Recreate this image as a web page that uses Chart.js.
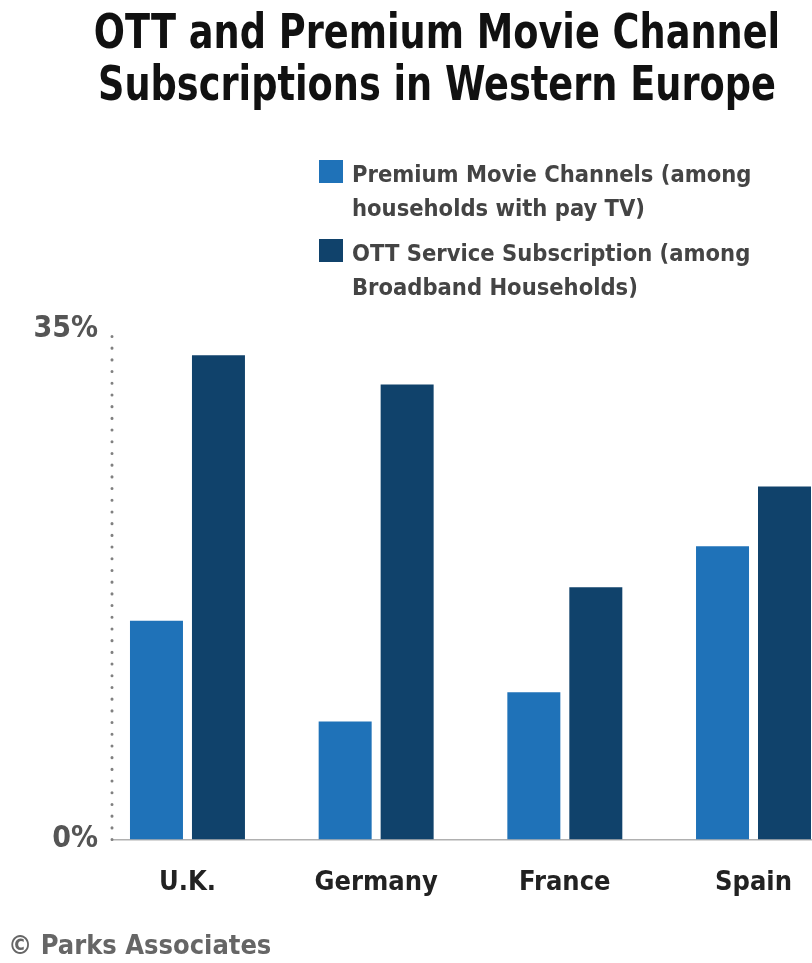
<!DOCTYPE html>
<html>
<head>
<meta charset="utf-8">
<title>OTT and Premium Movie Channel Subscriptions in Western Europe</title>
<script src="https://cdn.jsdelivr.net/npm/chart.js@4.4.1/dist/chart.umd.min.js"></script>
<style>
  html, body { margin: 0; padding: 0; background: #fff; overflow: hidden; }
  canvas { display: block; }
</style>
</head>
<body>
<canvas id="chart" width="812" height="963"></canvas>
<script>
// survey values, percent of households
const titleLines = ['OTT and Premium Movie Channel', 'Subscriptions in Western Europe'];
const categories = ['U.K.', 'Germany', 'France', 'Spain'];
const premiumMovie = [15.0, 8.1, 10.1, 20.1];
const ottService = [33.2, 31.2, 17.3, 24.2];
const seriesLabels = [
    ['Premium Movie Channels (among', 'households with pay TV)'],
    ['OTT Service Subscription (among', 'Broadband Households)']
];
const seriesColors = ['#1f72b8', '#10426b'];
const yTicks = [0, 35];
const sourceNote = '© Parks Associates';

const narrow = '"DejaVu Sans Condensed", "DejaVu Sans", sans-serif';

// title + two-line legend drawn above the plot
const headerPlugin = {
    id: 'header',
    afterDraw(chart) {
        const ctx = chart.ctx;
        ctx.save();
        ctx.textBaseline = 'alphabetic';
        ctx.textAlign = 'center';
        ctx.fillStyle = '#111';
        ctx.font = 'bold 48px ' + narrow;
        titleLines.forEach((t, i) => {
            // squeeze horizontally to get a condensed headline
            ctx.save();
            ctx.translate(437, 48 + i * 52);
            ctx.scale(0.85, 1);
            ctx.fillText(t, 0, 0);
            ctx.restore();
        });

        ctx.textAlign = 'left';
        ctx.font = 'bold 23.5px ' + narrow;
        chart.data.datasets.forEach((ds, i) => {
            const top = 160 + i * 79;
            ctx.fillStyle = ds.backgroundColor;
            ctx.fillRect(319, top, 24, 23);
            ctx.fillStyle = '#444';
            seriesLabels[i].forEach((line, j) => ctx.fillText(line, 352, top + 22 + j * 34));
        });
        ctx.restore();
    }
};

// dotted vertical axis
const dottedAxis = {
    id: 'dottedAxis',
    afterDatasetsDraw(chart) {
        const { ctx, chartArea, scales } = chart;
        ctx.save();
        ctx.strokeStyle = '#808080';
        ctx.lineWidth = 3;
        ctx.lineCap = 'round';
        ctx.setLineDash([0.1, 11.6]);
        ctx.beginPath();
        ctx.moveTo(chartArea.left, scales.y.getPixelForValue(yTicks[0]));
        ctx.lineTo(chartArea.left, scales.y.getPixelForValue(yTicks[yTicks.length - 1]));
        ctx.stroke();
        ctx.restore();
    }
};

const toPoints = arr => arr.map((v, i) => ({ x: i, y: v }));

new Chart(document.getElementById('chart').getContext('2d'), {
    type: 'bar',
    data: {
        datasets: [{
            label: seriesLabels[0].join(' '),
            data: toPoints(premiumMovie),
            backgroundColor: seriesColors[0]
        }, {
            label: seriesLabels[1].join(' '),
            data: toPoints(ottService),
            backgroundColor: seriesColors[1]
        }]
    },
    options: {
        responsive: false,
        animation: false,
        devicePixelRatio: 1,
        categoryPercentage: 0.657,
        barPercentage: 0.855,
        layout: { padding: { top: 329, left: 8, right: 0, bottom: 0 } },
        scales: {
            x: {
                type: 'linear',
                bounds: 'data',
                offset: false,
                min: -0.4,
                max: 3.31,
                afterBuildTicks: s => { s.ticks = categories.map((c, i) => ({ value: i })); },
                afterFit: s => {
                    s.height = 91;
                    // plot runs right up to the canvas edge
                    s.paddingLeft = 0;
                    s.paddingRight = 0;
                },
                grid: { display: false, drawTicks: false },
                border: { display: true, color: '#b0b0b0', width: 1.5 },
                ticks: {
                    includeBounds: false,
                    padding: 27,
                    color: '#222',
                    font: { family: narrow, size: 27, weight: 'bold' },
                    callback: v => categories[v]
                }
            },
            y: {
                min: yTicks[0],
                max: yTicks[yTicks.length - 1],
                afterBuildTicks: s => { s.ticks = yTicks.map(v => ({ value: v })); },
                afterFit: s => { s.width = 104; },
                grid: { display: false, drawTicks: false },
                border: { display: false },
                ticks: {
                    padding: 14,
                    color: '#555',
                    font: { family: narrow, size: 30, weight: 'bold' },
                    callback: v => v + '%'
                }
            }
        },
        plugins: {
            legend: { display: false },
            tooltip: { enabled: false },
            title: { display: false },
            subtitle: {
                display: true,
                text: sourceNote,
                position: 'bottom',
                align: 'start',
                color: '#666',
                font: { family: narrow, size: 27, weight: 'bold' },
                padding: { top: 0, bottom: 0 }
            }
        }
    },
    plugins: [headerPlugin, dottedAxis]
});
</script>
</body>
</html>
